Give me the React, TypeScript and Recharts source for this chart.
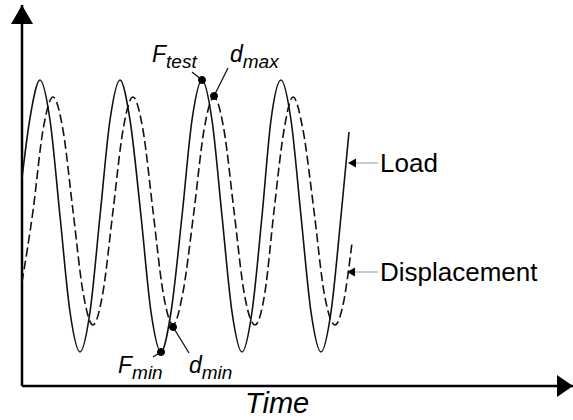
import React from 'react';
import { LineChart, Line, XAxis, YAxis, ReferenceLine, ReferenceDot } from 'recharts';

// schematic units: time 0..551, signal 0..381
const loadPoints = [
  [0, 208], [8, 268], [18, 306], [28, 266], [38, 170], [48, 74], [58, 34], [68, 74],
  [78, 170], [88, 266], [98, 306], [108, 266], [119, 170], [129, 74], [139, 34], [149, 74],
  [160, 170], [170, 266], [180, 306], [190, 266], [200, 170], [210, 74], [220, 34], [230, 74],
  [240, 170], [249, 266], [259, 306], [269, 266], [279, 170], [289, 74], [299, 34], [309, 74],
  [319, 170], [327, 254],
];

const dispPoints = [
  [0, 104], [11, 175], [21, 256], [31, 289], [41, 256], [51, 175], [61, 94], [71, 61],
  [81, 94], [91, 175], [101, 256], [111, 289], [121, 256], [131, 175], [141, 94], [151, 61],
  [161, 94], [172, 175], [182, 256], [192, 289], [202, 256], [212, 175], [222, 94], [233, 61],
  [243, 94], [252, 175], [262, 256], [271, 289], [281, 256], [292, 175], [302, 94], [313, 61],
  [321, 81], [330, 143],
];

const loadData = loadPoints.map(([x, y]) => ({ x, y }));
const dispData = dispPoints.map(([x, y]) => ({ x, y }));

// marked points: [x, y, label, subscript, label x, label y]
const markers = [
  { name: 'F', sub: 'test', x: 180, y: 306, lx: 130, ly: 324, from: [170, 314] },
  { name: 'd', sub: 'max', x: 192, y: 290, lx: 208, ly: 324, from: [206, 318] },
  { name: 'F', sub: 'min', x: 139, y: 34, lx: 96, ly: 13, from: [131, 29] },
  { name: 'd', sub: 'min', x: 151, y: 59, lx: 167, ly: 13, from: [167, 33] },
];

const seriesLabels = [
  { text: 'Load', y: 223, tipX: 326, lineX: 333, textX: 358 },
  { text: 'Displacement', y: 114, tipX: 325, lineX: 332, textX: 358 },
];

const font = '"Liberation Sans", Arial, sans-serif';

const App = () => {
  return (
    <div style={{ position: 'absolute', left: 0, top: 0 }}>
      <LineChart width={573} height={420} margin={{ top: 5, right: 0, bottom: 34, left: 22 }}>
        <XAxis type="number" dataKey="x" domain={[0, 551]} hide />
        <YAxis type="number" domain={[0, 381]} hide />

        <ReferenceLine x={0} stroke="#000" strokeWidth={2.5} ifOverflow="visible" />
        <ReferenceLine y={0} stroke="#000" strokeWidth={2.5} ifOverflow="visible" />
        <ReferenceDot
          x={0}
          y={381}
          ifOverflow="visible"
          shape={(p: any) => (
            <polygon points={`${p.cx},${p.cy} ${p.cx - 11},${p.cy + 19} ${p.cx + 11},${p.cy + 19}`} fill="#000" />
          )}
        />
        <ReferenceDot
          x={551}
          y={0}
          ifOverflow="visible"
          shape={(p: any) => (
            <polygon points={`${p.cx},${p.cy} ${p.cx - 16},${p.cy - 11} ${p.cx - 16},${p.cy + 11}`} fill="#000" />
          )}
        />

        <Line data={loadData} dataKey="y" type="monotone" stroke="#111" strokeWidth={1.6} dot={false} activeDot={false} isAnimationActive={false} />
        <Line data={dispData} dataKey="y" type="monotone" stroke="#111" strokeWidth={1.6} strokeDasharray="9 4" dot={false} activeDot={false} isAnimationActive={false} />

        {markers.map((m, i) => (
          <ReferenceLine
            key={`ml${i}`}
            segment={[{ x: m.from[0], y: m.from[1] }, { x: m.x, y: m.y }]}
            stroke="#111"
            strokeWidth={1.3}
            ifOverflow="visible"
          />
        ))}
        {markers.map((m, i) => (
          <ReferenceDot key={`md${i}`} x={m.x} y={m.y} r={3.5} fill="#000" stroke="#000" ifOverflow="visible" />
        ))}
        {markers.map((m, i) => (
          <ReferenceDot
            key={`mt${i}`}
            x={m.lx}
            y={m.ly}
            ifOverflow="visible"
            shape={(p: any) => (
              <text x={p.cx} y={p.cy} fontFamily={font} fontStyle="italic" fill="#000" fontSize={23}>
                {m.name}
                <tspan fontSize={19} dy={6}>{m.sub}</tspan>
              </text>
            )}
          />
        ))}

        {seriesLabels.map((s, i) => (
          <ReferenceLine
            key={`sl${i}`}
            segment={[{ x: s.lineX, y: s.y }, { x: s.textX - 2, y: s.y }]}
            stroke="#bbb"
            strokeWidth={1.5}
            ifOverflow="visible"
          />
        ))}
        {seriesLabels.map((s, i) => (
          <ReferenceDot
            key={`sa${i}`}
            x={s.tipX}
            y={s.y}
            ifOverflow="visible"
            shape={(p: any) => (
              <polygon points={`${p.cx},${p.cy} ${p.cx + 8},${p.cy - 4.5} ${p.cx + 8},${p.cy + 4.5}`} fill="#000" />
            )}
          />
        ))}
        {seriesLabels.map((s, i) => (
          <ReferenceDot
            key={`st${i}`}
            x={s.textX}
            y={s.y}
            ifOverflow="visible"
            shape={(p: any) => (
              <text x={p.cx} y={p.cy + 9} fontFamily={font} fontSize={26} fill="#000">
                {s.text}
              </text>
            )}
          />
        ))}

        <ReferenceDot
          x={223}
          y={-27}
          ifOverflow="visible"
          shape={(p: any) => (
            <text x={p.cx} y={p.cy} fontFamily={font} fontStyle="italic" fontSize={29} fill="#000">
              Time
            </text>
          )}
        />
      </LineChart>
    </div>
  );
};

export default App;
